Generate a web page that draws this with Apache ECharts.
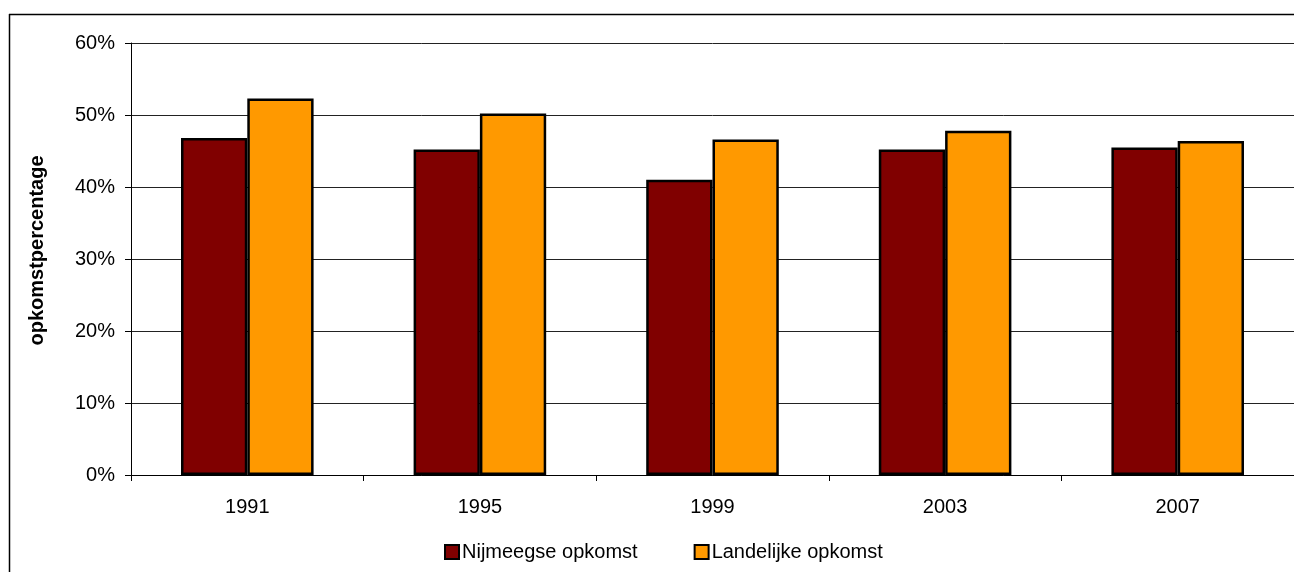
<!DOCTYPE html>
<html>
<head>
<meta charset="utf-8">
<script src="https://cdn.jsdelivr.net/npm/echarts@6/dist/echarts.min.js"></script>
<style>html,body{margin:0;padding:0;background:#fff;}#c{width:1294px;height:572px;}</style>
</head>
<body>
<div id="c"></div>
<script>
var categories = ['1991', '1995', '1999', '2003', '2007'];
var nijmeegse = [46.8, 45.2, 41.0, 45.2, 45.5];
var landelijk = [52.3, 50.2, 46.6, 47.8, 46.4];
var seriesNames = ['Nijmeegse opkomst', 'Landelijke opkomst'];
var yAxisName = 'opkomstpercentage';

var font = '"Liberation Sans", Arial, sans-serif';
var chart = echarts.init(document.getElementById('c'));
chart.setOption({
  animation: false,
  backgroundColor: '#fff',
  textStyle: { fontFamily: font },
  graphic: [
    { type: 'line', shape: { x1: 9.5, y1: 14, x2: 9.5, y2: 600 }, style: { stroke: '#000', lineWidth: 1.5 }, z: 10 },
    { type: 'line', shape: { x1: 9, y1: 14.5, x2: 1300, y2: 14.5 }, style: { stroke: '#000', lineWidth: 1.5 }, z: 10 }
  ],
  grid: { left: 131, right: -3, top: 43, bottom: 97, containLabel: false },
  legend: {
    data: seriesNames,
    left: 439,
    top: 537,
    itemWidth: 14,
    itemHeight: 14,
    itemGap: 56,
    icon: 'rect',
    itemStyle: { borderColor: '#000', borderWidth: 2 },
    textStyle: { fontSize: 20, color: '#000', fontFamily: font, padding: [0, 0, 0, -2] }
  },
  xAxis: {
    type: 'category',
    data: categories,
    axisLine: { lineStyle: { color: '#000', width: 1 } },
    axisTick: { show: true, length: 6, lineStyle: { color: '#000' } },
    axisLabel: { fontSize: 20, color: '#000', margin: 22, fontFamily: font }
  },
  yAxis: {
    type: 'value',
    min: 0,
    max: 60,
    interval: 10,
    name: yAxisName,
    nameLocation: 'middle',
    nameGap: 84,
    nameTextStyle: { fontSize: 20, fontWeight: 'bold', color: '#000', fontFamily: font, padding: [0, 0, 0, 17] },
    axisLine: { show: true, lineStyle: { color: '#000', width: 1 } },
    axisTick: { show: true, length: 6, lineStyle: { color: '#000' } },
    axisLabel: { fontSize: 20, color: '#000', margin: 16, fontFamily: font, formatter: '{value}%' },
    splitLine: { show: true, lineStyle: { color: '#222', width: 1 } }
  },
  series: [
    {
      name: seriesNames[0], type: 'bar', data: nijmeegse,
      barGap: '0%', barCategoryGap: '43%',
      itemStyle: { color: '#800000', borderColor: '#000', borderWidth: 2.5 }
    },
    {
      name: seriesNames[1], type: 'bar', data: landelijk,
      barGap: '0%', barCategoryGap: '43%',
      itemStyle: { color: '#FF9900', borderColor: '#000', borderWidth: 2.5 }
    }
  ]
});
</script>
</body>
</html>
